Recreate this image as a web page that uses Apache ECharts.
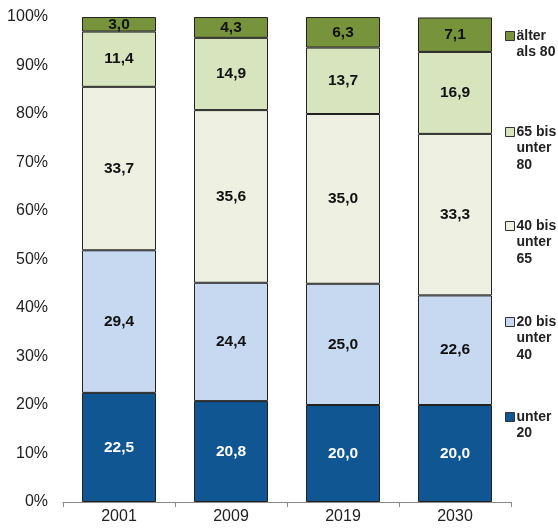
<!DOCTYPE html>
<html><head><meta charset="utf-8">
<script src="https://cdn.jsdelivr.net/npm/echarts@6/dist/echarts.min.js"></script>
<style>html,body{margin:0;padding:0;background:#fff}#c{width:558px;height:530px}</style>
</head><body><div id="c"></div>
<script>
const categories = ['2001', '2009', '2019', '2030'];
const unter20 = [22.5, 20.8, 20.0, 20.0];
const bis40 = [29.4, 24.4, 25.0, 22.6];
const bis65 = [33.7, 35.6, 35.0, 33.3];
const bis80 = [11.4, 14.9, 13.7, 16.9];
const ueber80 = [3.0, 4.3, 6.3, 7.1];
const seriesNames = ['unter 20', '20 bis unter 40', '40 bis unter 65', '65 bis unter 80', 'älter als 80'];
const legendLabels = ['unter\n20', '20 bis\nunter\n40', '40 bis\nunter\n65', '65 bis\nunter\n80', 'älter\nals 80'];
const yTicks = [0, 10, 20, 30, 40, 50, 60, 70, 80, 90, 100];

const colors = ['#0F5692', '#C6D9F1', '#EEF1E1', '#D7E4BD', '#77933C'];
const labelColors = ['#ffffff', '#111111', '#111111', '#111111', '#111111'];
const values = [unter20, bis40, bis65, bis80, ueber80];
const legendCenters = [417, 322, 226, 132, 36];

const chart = echarts.init(document.getElementById('c'));
const fam = 'Arial, "Liberation Sans", sans-serif';

const series = seriesNames.map((n, i) => ({
  name: n, type: 'bar', stack: 'all', barWidth: 74,
  data: values[i],
  itemStyle: { color: colors[i], borderColor: '#222', borderWidth: 1 },
  label: { show: true, position: 'inside', fontFamily: fam, fontSize: 15.5, fontWeight: 'bold',
    color: labelColors[i], formatter: p => p.value.toFixed(1).replace('.', ',') }
}));

const LH = 16.5;
const legends = seriesNames.map((n, i) => {
  const lines = legendLabels[i].split('\n').length;
  const pad = lines - 1; // blank lines prepended so the first line sits on the icon
  const total = lines + pad;
  return {
    data: [{ name: n, icon: 'rect' }], left: 505, top: legendCenters[i] - total * LH / 2,
    orient: 'vertical', itemWidth: 9, itemHeight: 9, itemGap: 0, padding: 0,
    selectedMode: false,
    itemStyle: { borderColor: '#333', borderWidth: 1 },
    textStyle: { fontFamily: fam, fontSize: 14, fontWeight: 'bold', color: '#222', lineHeight: LH, padding: [0,0,0,-3] },
    formatter: () => ' \n'.repeat(pad) + legendLabels[i]
  };
});

chart.setOption({
  animation: false,
  grid: { left: 63, right: 47, top: 17, bottom: 28 },
  legend: legends,
  xAxis: {
    type: 'category', data: categories,
    axisLine: { lineStyle: { color: '#8a8a8a', width: 1 } },
    axisTick: { show: true, inside: false, length: 5, alignWithLabel: false, lineStyle: { color: '#8a8a8a' } },
    axisLabel: { fontFamily: fam, fontSize: 16, color: '#222', margin: 7 }
  },
  yAxis: {
    type: 'value', min: yTicks[0], max: yTicks[yTicks.length - 1], interval: 10,
    axisLine: { show: false }, axisTick: { show: false }, splitLine: { show: false },
    axisLabel: { fontFamily: fam, fontSize: 16, color: '#222', margin: 15, formatter: v => v + '%' }
  },
  series: series
});
</script></body></html>
